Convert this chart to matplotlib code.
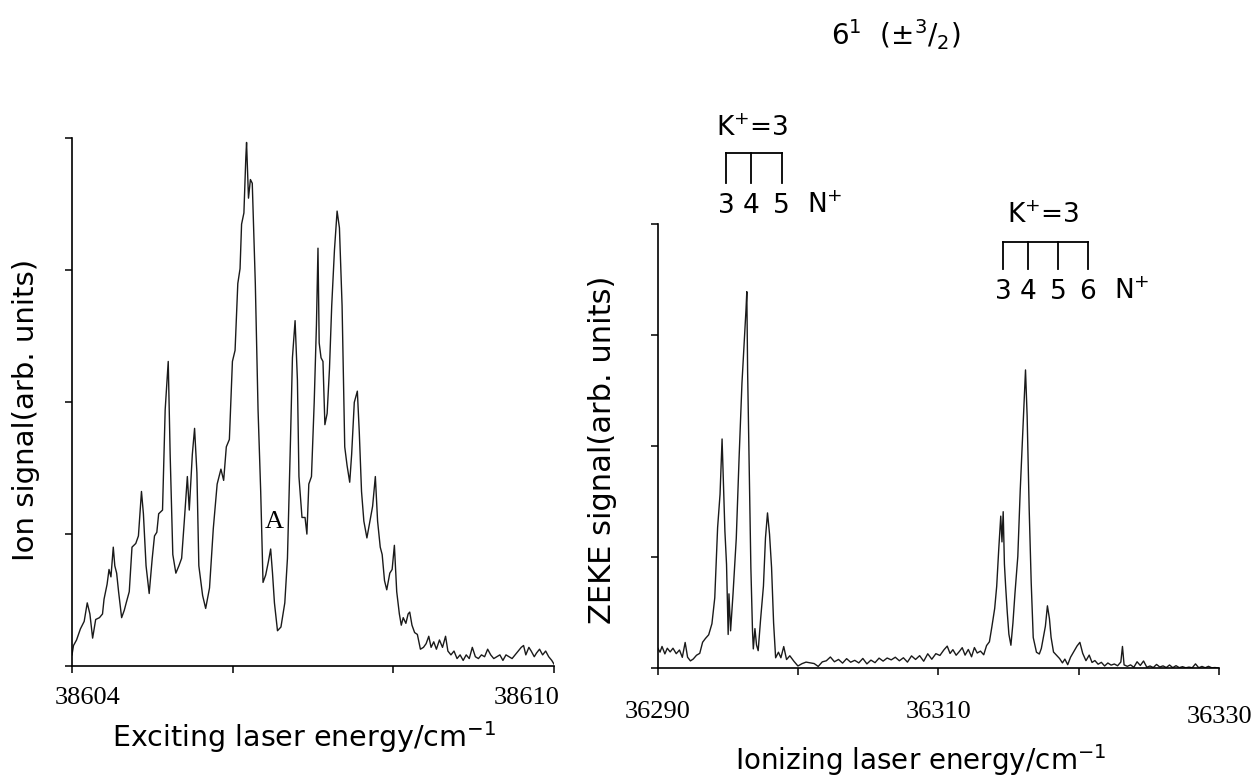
import numpy as np
import matplotlib
matplotlib.use('Agg')
import matplotlib.pyplot as plt

plt.rcParams['font.family'] = 'DejaVu Sans'
plt.rcParams['mathtext.fontset'] = 'dejavusans'

# ---- left panel: REMPI spectrum (exciting laser scan) ----
ion_energy = [
    38604.000, 38604.019, 38604.057, 38604.105, 38604.152, 38604.190, 38604.223, 38604.257,
    38604.295, 38604.342, 38604.380, 38604.399, 38604.437, 38604.461, 38604.485, 38604.514,
    38604.533, 38604.556, 38604.580, 38604.618, 38604.651, 38604.675, 38604.713, 38604.747,
    38604.794, 38604.827, 38604.865, 38604.889, 38604.922, 38604.961, 38604.999, 38605.027,
    38605.056, 38605.079, 38605.127, 38605.160, 38605.198, 38605.222, 38605.255, 38605.293,
    38605.331, 38605.365, 38605.398, 38605.436, 38605.460, 38605.498, 38605.526, 38605.555,
    38605.579, 38605.626, 38605.664, 38605.712, 38605.759, 38605.807, 38605.854, 38605.888,
    38605.921, 38605.959, 38605.997, 38606.030, 38606.064, 38606.092, 38606.111, 38606.140,
    38606.164, 38606.173, 38606.197, 38606.221, 38606.244, 38606.282, 38606.316, 38606.349,
    38606.378, 38606.411, 38606.444, 38606.473, 38606.496, 38606.520, 38606.558, 38606.601,
    38606.649, 38606.682, 38606.720, 38606.744, 38606.777, 38606.806, 38606.825, 38606.863,
    38606.901, 38606.924, 38606.948, 38606.981, 38607.015, 38607.043, 38607.062, 38607.077,
    38607.100, 38607.124, 38607.148, 38607.176, 38607.205, 38607.233, 38607.267, 38607.300,
    38607.329, 38607.362, 38607.395, 38607.424, 38607.457, 38607.481, 38607.514, 38607.552,
    38607.576, 38607.604, 38607.633, 38607.671, 38607.709, 38607.742, 38607.776, 38607.804,
    38607.837, 38607.861, 38607.890, 38607.918, 38607.956, 38607.985, 38608.013, 38608.042,
    38608.075, 38608.099, 38608.123, 38608.156, 38608.184, 38608.204, 38608.232, 38608.265,
    38608.299, 38608.337, 38608.375, 38608.408, 38608.441, 38608.470, 38608.503, 38608.536,
    38608.574, 38608.612, 38608.650, 38608.679, 38608.717, 38608.755, 38608.793, 38608.831,
    38608.869, 38608.907, 38608.945, 38608.983, 38609.021, 38609.059, 38609.097, 38609.136,
    38609.174, 38609.212, 38609.250, 38609.288, 38609.326, 38609.364, 38609.402, 38609.440,
    38609.478, 38609.516, 38609.554, 38609.592, 38609.621, 38609.649, 38609.687, 38609.716,
    38609.754, 38609.782, 38609.820, 38609.858, 38609.896, 38609.934, 38609.972, 38610.000,
]
ion_signal = [
    0.084, 0.155, 0.197, 0.281, 0.338, 0.478, 0.394, 0.211,
    0.352, 0.366, 0.394, 0.506, 0.619, 0.731, 0.675, 0.900,
    0.759, 0.703, 0.563, 0.366, 0.422, 0.478, 0.563, 0.900,
    0.928, 0.985, 1.322, 1.153, 0.759, 0.549, 0.816, 0.985,
    1.013, 1.153, 1.181, 1.941, 2.307, 1.603, 0.844, 0.703,
    0.759, 0.816, 1.097, 1.435, 1.181, 1.603, 1.800, 1.463,
    0.759, 0.534, 0.436, 0.591, 1.041, 1.378, 1.491, 1.406,
    1.660, 1.716, 2.307, 2.391, 2.897, 3.010, 3.347, 3.432,
    3.854, 3.966, 3.544, 3.685, 3.657, 2.897, 1.941, 1.322,
    0.633, 0.689, 0.788, 0.886, 0.703, 0.478, 0.267, 0.295,
    0.478, 0.816, 1.716, 2.335, 2.616, 2.166, 1.435, 1.125,
    1.125, 0.999, 1.378, 1.435, 1.997, 2.588, 3.165, 2.447,
    2.335, 2.307, 1.828, 1.913, 2.250, 2.729, 3.150, 3.446,
    3.319, 2.729, 1.660, 1.519, 1.392, 1.603, 1.997, 2.082,
    1.772, 1.322, 1.097, 0.970, 1.097, 1.210, 1.435, 1.097,
    0.900, 0.844, 0.647, 0.577, 0.703, 0.731, 0.914, 0.563,
    0.394, 0.309, 0.366, 0.323, 0.394, 0.408, 0.309, 0.253,
    0.239, 0.127, 0.141, 0.169, 0.225, 0.141, 0.183, 0.127,
    0.197, 0.141, 0.225, 0.113, 0.084, 0.113, 0.056, 0.084,
    0.042, 0.084, 0.056, 0.141, 0.070, 0.056, 0.084, 0.070,
    0.127, 0.084, 0.056, 0.070, 0.084, 0.042, 0.084, 0.070,
    0.056, 0.084, 0.113, 0.141, 0.155, 0.084, 0.141, 0.113,
    0.070, 0.098, 0.127, 0.084, 0.113, 0.070, 0.042, 0.014,
]

# ---- right panel: ZEKE spectrum (ionizing laser scan) ----
zeke_energy = [
    36290.000, 36290.145, 36290.289, 36290.492, 36290.665, 36290.868, 36291.070, 36291.302,
    36291.533, 36291.735, 36291.938, 36292.111, 36292.314, 36292.516, 36292.748, 36292.979,
    36293.182, 36293.384, 36293.615, 36293.847, 36294.049, 36294.252, 36294.425, 36294.570,
    36294.657, 36294.772, 36294.888, 36295.004, 36295.061, 36295.177, 36295.351, 36295.582,
    36295.785, 36295.987, 36296.161, 36296.276, 36296.334, 36296.392, 36296.508, 36296.623,
    36296.739, 36296.797, 36296.913, 36297.028, 36297.144, 36297.317, 36297.520, 36297.664,
    36297.809, 36297.954, 36298.098, 36298.243, 36298.388, 36298.590, 36298.764, 36298.966,
    36299.168, 36299.400, 36299.689, 36299.978, 36300.268, 36300.557, 36300.846, 36301.135,
    36301.424, 36301.714, 36302.003, 36302.292, 36302.581, 36302.871, 36303.160, 36303.449,
    36303.738, 36304.027, 36304.317, 36304.606, 36304.895, 36305.184, 36305.474, 36305.763,
    36306.052, 36306.341, 36306.631, 36306.920, 36307.209, 36307.498, 36307.787, 36308.077,
    36308.366, 36308.655, 36308.944, 36309.234, 36309.523, 36309.812, 36310.101, 36310.390,
    36310.622, 36310.824, 36311.027, 36311.258, 36311.490, 36311.692, 36311.895, 36312.126,
    36312.357, 36312.560, 36312.762, 36312.993, 36313.225, 36313.427, 36313.630, 36313.803,
    36314.006, 36314.150, 36314.295, 36314.439, 36314.526, 36314.613, 36314.700, 36314.787,
    36314.902, 36315.018, 36315.163, 36315.307, 36315.452, 36315.655, 36315.828, 36316.002,
    36316.204, 36316.320, 36316.464, 36316.609, 36316.754, 36316.985, 36317.188, 36317.332,
    36317.477, 36317.621, 36317.766, 36317.911, 36318.026, 36318.200, 36318.431, 36318.634,
    36318.836, 36319.010, 36319.212, 36319.415, 36319.646, 36319.877, 36320.080, 36320.282,
    36320.513, 36320.745, 36320.947, 36321.150, 36321.381, 36321.612, 36321.844, 36322.075,
    36322.307, 36322.538, 36322.769, 36323.001, 36323.116, 36323.232, 36323.463, 36323.695,
    36323.926, 36324.158, 36324.389, 36324.620, 36324.852, 36325.083, 36325.315, 36325.546,
    36325.777, 36326.009, 36326.240, 36326.471, 36326.703, 36326.934, 36327.166, 36327.397,
    36327.628, 36327.860, 36328.091, 36328.322, 36328.554, 36328.785, 36329.017, 36329.248,
    36329.479, 36329.711, 36330.000,
]
zeke_signal = [
    0.176, 0.143, 0.194, 0.127, 0.178, 0.145, 0.178, 0.129,
    0.162, 0.096, 0.230, 0.097, 0.064, 0.081, 0.115, 0.132,
    0.232, 0.266, 0.299, 0.399, 0.632, 1.265, 1.564, 2.063,
    1.698, 1.232, 0.933, 0.302, 0.668, 0.335, 0.668, 1.167,
    1.899, 2.564, 2.964, 3.230, 3.390, 2.665, 1.767, 0.903,
    0.338, 0.172, 0.355, 0.206, 0.156, 0.439, 0.739, 1.171,
    1.397, 1.205, 0.906, 0.407, 0.092, 0.142, 0.092, 0.193,
    0.076, 0.110, 0.061, 0.018, 0.039, 0.053, 0.046, 0.040,
    0.014, 0.055, 0.065, 0.099, 0.056, 0.077, 0.044, 0.084,
    0.052, 0.069, 0.046, 0.086, 0.037, 0.071, 0.048, 0.089,
    0.062, 0.090, 0.073, 0.097, 0.065, 0.092, 0.053, 0.109,
    0.077, 0.111, 0.061, 0.128, 0.079, 0.129, 0.113, 0.164,
    0.197, 0.131, 0.165, 0.115, 0.149, 0.183, 0.116, 0.167,
    0.101, 0.184, 0.135, 0.152, 0.119, 0.202, 0.236, 0.369,
    0.536, 0.736, 1.069, 1.368, 1.136, 1.408, 0.936, 0.737,
    0.504, 0.305, 0.205, 0.405, 0.672, 1.005, 1.603, 2.103,
    2.685, 2.269, 1.438, 0.773, 0.275, 0.142, 0.126, 0.176,
    0.276, 0.376, 0.560, 0.443, 0.277, 0.144, 0.112, 0.085,
    0.046, 0.080, 0.030, 0.097, 0.147, 0.198, 0.231, 0.132,
    0.066, 0.116, 0.050, 0.067, 0.034, 0.051, 0.018, 0.045,
    0.026, 0.036, 0.020, 0.054, 0.194, 0.028, 0.015, 0.028,
    0.006, 0.056, 0.023, 0.063, 0.007, 0.018, 0.004, 0.032,
    0.009, 0.019, 0.004, 0.027, 0.003, 0.021, 0.003, 0.012,
    0.002, 0.008, 0.002, 0.037, 0.002, 0.014, 0.002, 0.015,
    0.002, 0.004, 0.000,
]

ion_xticks = [38604, 38606, 38608, 38610]
ion_ticklabels = ['38604', '', '', '38610']
zeke_xticks = [36290, 36300, 36310, 36320, 36330]
zeke_ticklabels = ['36290', '', '36310', '', '36330']
yticks = [0, 1, 2, 3, 4]

# rotational assignment combs above the ZEKE peaks
comb1_x = [36294.87, 36296.66, 36298.82]
comb1_n = ['3', '4', '5']
comb2_x = [36314.62, 36316.41, 36318.51, 36320.65]
comb2_n = ['3', '4', '5', '6']

fig = plt.figure(figsize=(12.54, 7.79), dpi=100)
ax1 = fig.add_axes([0.0574, 0.1451, 0.3844, 0.6778])
ax2 = fig.add_axes([0.5247, 0.1425, 0.4474, 0.570])

line_kw = dict(color='#1a1a1a', linewidth=1.0)
ax1.plot(ion_energy, ion_signal, **line_kw)
ax2.plot(zeke_energy, zeke_signal, **line_kw)

for ax in (ax1, ax2):
    for s in ('top', 'right'):
        ax.spines[s].set_visible(False)
    for s in ('left', 'bottom'):
        ax.spines[s].set_linewidth(1.2)
    ax.tick_params(direction='out', length=5, width=1.1,
                   labelbottom=False, labelleft=False)
    ax.set_ylim(0, 4)
    ax.set_yticks(yticks)

ax1.set_xlim(38604, 38610)
ax1.set_xticks(ion_xticks)
ax2.set_xlim(36290, 36330)
ax2.set_xticks(zeke_xticks)

serif = dict(family='Liberation Serif', size=19, ha='center', va='center')
# tick labels sit a bit off the ticks in the original
ax1.text(38604.19, -0.061, ion_ticklabels[0], transform=ax1.get_xaxis_transform(), **serif)
ax1.text(38609.66, -0.061, ion_ticklabels[-1], transform=ax1.get_xaxis_transform(), **serif)
for xv, lab, dy in zip(zeke_xticks, zeke_ticklabels, [-0.099, 0, -0.099, 0, -0.110]):
    if lab:
        ax2.text(xv, dy, lab, transform=ax2.get_xaxis_transform(), **serif)

ax1.text(38606.52, 1.09, 'A', **serif)

# axis labels
fig.text(0.2424, 0.0411, r'Exciting laser energy/cm$^{-1}$', fontsize=20.5, ha='center', va='baseline')
fig.text(0.7345, 0.0116, r'Ionizing laser energy/cm$^{-1}$', fontsize=20, ha='center', va='baseline')
fig.text(0.0207, 0.4737, 'Ion signal(arb. units)', fontsize=21, rotation=90, ha='center', va='center')
fig.text(0.4801, 0.4223, 'ZEKE signal(arb. units)', fontsize=22, rotation=90, ha='center', va='center')

fig.text(0.714, 0.955, r'6$^{1}$  (±$^{3}$/$_{2}$)', fontsize=20, ha='center', va='center')

# combs
def comb(ax, xs, labels, y_top, y_bot, y_lab, k_x, k_y, n_x):
    kw = dict(color='black', linewidth=1.3, clip_on=False)
    ax.plot([xs[0], xs[-1]], [y_top, y_top], **kw)
    for xv in xs:
        ax.plot([xv, xv], [y_top, y_bot], **kw)
    for xv, lab in zip(xs, labels):
        ax.text(xv, y_lab, lab, fontsize=19, ha='center', va='center')
    ax.text(n_x, y_lab, r'N$^{+}$', fontsize=19, ha='center', va='center')
    ax.text(k_x, k_y, r'K$^{+}$=3', fontsize=19, ha='center', va='center')

comb(ax2, comb1_x, comb1_n, 4.64, 4.37, 4.16, 36296.74, 4.86, 36301.9)
comb(ax2, comb2_x, comb2_n, 3.84, 3.59, 3.39, 36317.49, 4.07, 36323.8)

fig.savefig('out.png', dpi=100)
